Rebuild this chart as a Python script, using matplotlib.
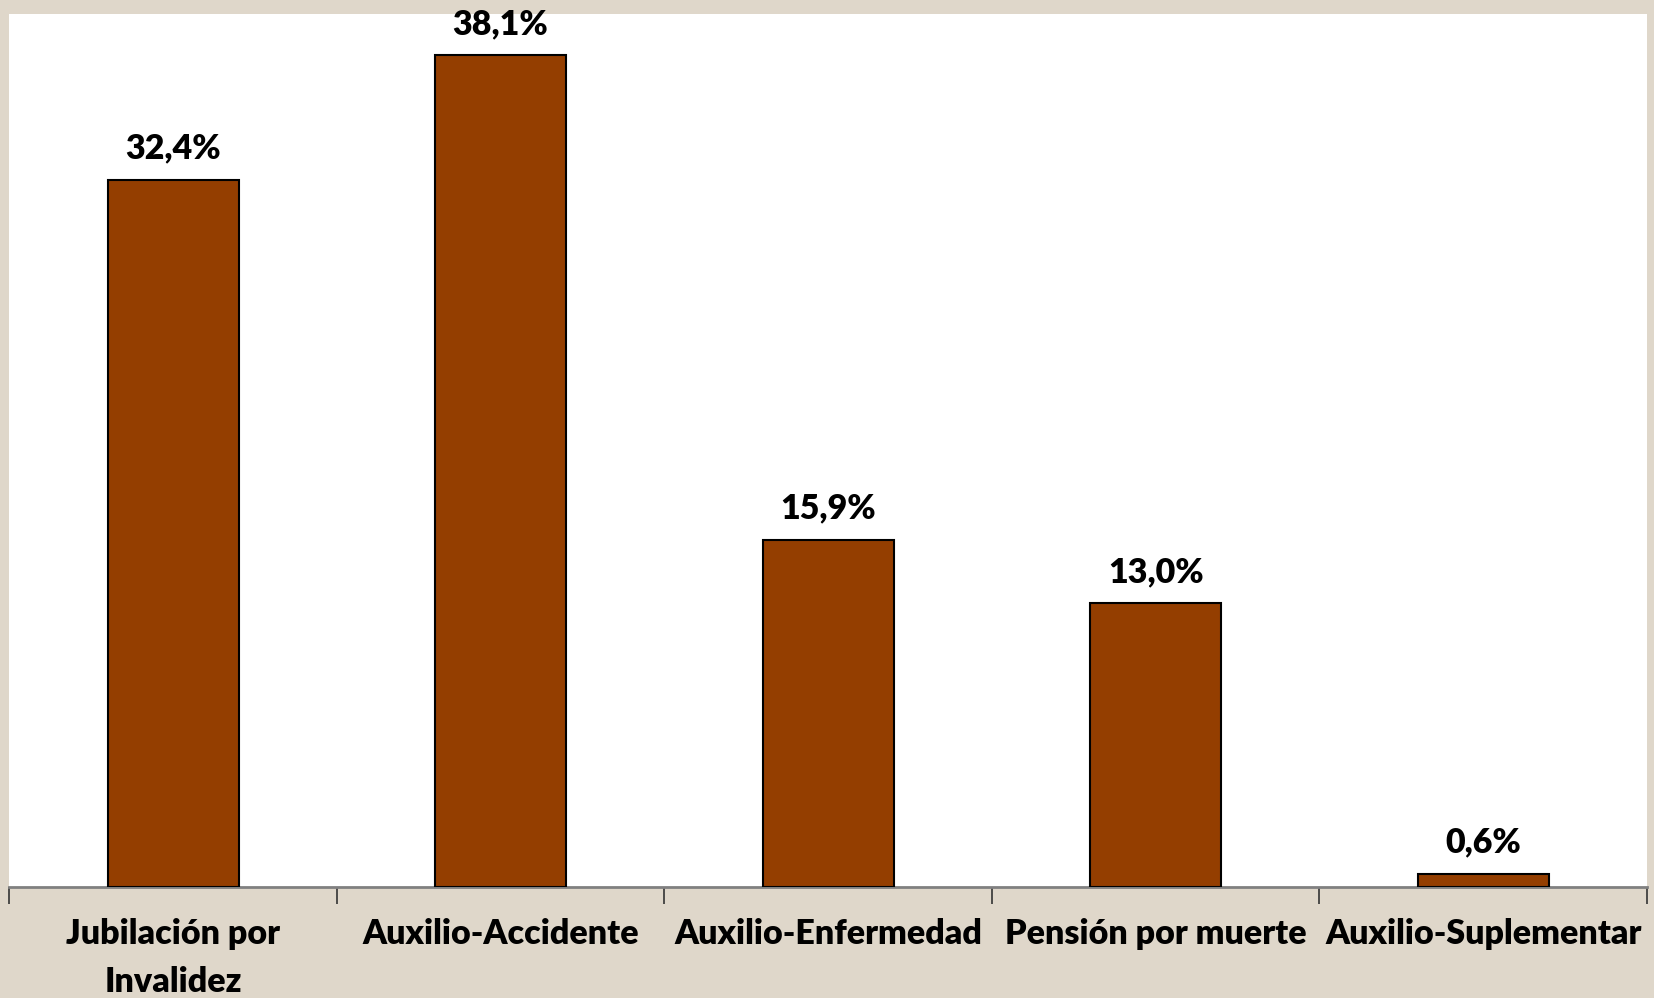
import numpy as np
import matplotlib.pyplot as plt

categories = ["Jubilación por\nInvalidez", "Auxilio-Accidente", "Auxilio-Enfermedad",
              "Pensión por muerte", "Auxilio-Suplementar"]
values = [32.4, 38.1, 15.9, 13.0, 0.6]
value_labels = ["32,4%", "38,1%", "15,9%", "13,0%", "0,6%"]

bg = "#DFD7CA"
bar_color = "#943E00"
font = ["Lato", "DejaVu Sans"]

fig = plt.figure(figsize=(16.54, 9.98), dpi=100, facecolor=bg)
ax = fig.add_axes([0.0056, 0.1112, 0.9902, 0.8748])
ax.set_facecolor("white")

x = np.arange(len(categories))
ax.bar(x, values, width=0.4, color=bar_color, edgecolor="black", linewidth=1.5, zorder=3)

for xi, v, lab in zip(x, values, value_labels):
    ax.annotate(lab, (xi, v), xytext=(0, 11), textcoords="offset points",
                ha="center", va="bottom", fontsize=24.5, fontweight="heavy",
                family=font, color="black")

ax.set_xlim(-0.5, len(categories) - 0.5)
ax.set_ylim(0, 40)
ax.set_yticks([])

for s in ["top", "left", "right"]:
    ax.spines[s].set_visible(False)
ax.spines["bottom"].set_color("#808080")
ax.spines["bottom"].set_linewidth(2)

ax.set_xticks(x)
ax.set_xticklabels(categories, fontsize=24.5, fontweight="heavy", family=font,
                   linespacing=1.62)
ax.tick_params(axis="x", which="major", length=0, pad=22)
ax.set_xticks(np.arange(len(categories) + 1) - 0.5, minor=True)
ax.tick_params(axis="x", which="minor", length=12, width=1.2, color="#333333",
               direction="out")

fig.savefig("out.png", dpi=100, facecolor=bg)
